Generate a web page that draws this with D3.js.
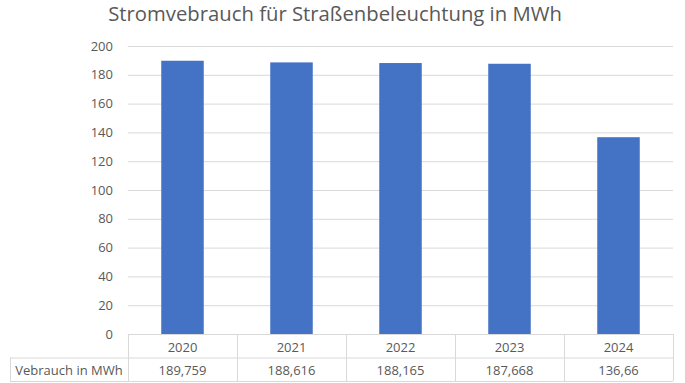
<!DOCTYPE html>
<html><head><meta charset="utf-8">
<script src="https://cdn.jsdelivr.net/npm/d3@7"></script>
<style>body{margin:0;background:#fff}svg{display:block}</style>
</head><body>
<svg id="c" width="685" height="383"></svg>
<script>
const categories = ["2020","2021","2022","2023","2024"];
const values = [189.759, 188.616, 188.165, 187.668, 136.66];
const valueLabels = ["189,759","188,616","188,165","187,668","136,66"];
const yTicks = [0,20,40,60,80,100,120,140,160,180,200];
const seriesName = "Vebrauch in MWh";
const title = "Stromvebrauch für Straßenbeleuchtung in MWh";

const svg = d3.select("#c");
const font = "'Open Sans', 'Noto Sans', sans-serif";
const pLeft = 128, pRight = 673, pTop = 46, pBottom = 334;
const rowH = 23.5, tableLeft = 10;

const x = d3.scaleBand().domain(categories).range([pLeft, pRight]).paddingInner(0.61).paddingOuter(0.305);
const xc = d3.scaleBand().domain(categories).range([pLeft, pRight]);
const y = d3.scaleLinear().domain([0,200]).range([pBottom, pTop]);

// gridlines
svg.append("g").selectAll("line").data(yTicks).join("line")
  .attr("x1", pLeft).attr("x2", pRight)
  .attr("y1", d=>y(d)+0.5).attr("y2", d=>y(d)+0.5)
  .attr("stroke", "#d9d9d9").attr("stroke-width", 1);

// y axis labels
const yAxis = d3.axisLeft(y).tickValues(yTicks).tickSize(0).tickPadding(15);
const ga = svg.append("g").attr("transform", `translate(${pLeft},0)`).call(yAxis);
ga.select(".domain").remove();
ga.selectAll("text").attr("font-family", font).attr("font-size", 13).attr("fill", "#595959");

// bars
svg.append("g").selectAll("rect").data(values).join("rect")
  .attr("x", (d,i)=>x(categories[i]))
  .attr("width", x.bandwidth())
  .attr("y", d=>y(d))
  .attr("height", d=>pBottom - y(d))
  .attr("fill", "#4472c4");

// data table
const t = svg.append("g");
const lc = "#d9d9d9";
t.append("line").attr("x1", pLeft).attr("x2", pRight).attr("y1", pBottom+0.5).attr("y2", pBottom+0.5).attr("stroke", lc);
t.append("line").attr("x1", tableLeft).attr("x2", pRight).attr("y1", pBottom+rowH+0.5).attr("y2", pBottom+rowH+0.5).attr("stroke", lc);
t.append("line").attr("x1", tableLeft).attr("x2", pRight).attr("y1", pBottom+2*rowH+0.5).attr("y2", pBottom+2*rowH+0.5).attr("stroke", lc);
const vx = categories.map(c=>xc(c)).concat([pRight]);
t.selectAll("line.v").data(vx).join("line").attr("class","v")
  .attr("x1", d=>Math.round(d)+0.5).attr("x2", d=>Math.round(d)+0.5)
  .attr("y1", pBottom).attr("y2", pBottom+2*rowH).attr("stroke", lc);
t.append("line").attr("x1", tableLeft+0.5).attr("x2", tableLeft+0.5).attr("y1", pBottom+rowH).attr("y2", pBottom+2*rowH).attr("stroke", lc);

t.selectAll("text.cat").data(categories).join("text").attr("class","cat")
  .attr("x", d=>xc(d)+xc.bandwidth()/2).attr("y", pBottom+rowH/2+1)
  .attr("text-anchor","middle").attr("dominant-baseline","central")
  .attr("font-family", font).attr("font-size", 13).attr("fill", "#595959").text(d=>d);
t.selectAll("text.val").data(valueLabels).join("text").attr("class","val")
  .attr("x", (d,i)=>xc(categories[i])+xc.bandwidth()/2).attr("y", pBottom+rowH*1.5+1)
  .attr("text-anchor","middle").attr("dominant-baseline","central")
  .attr("font-family", font).attr("font-size", 13).attr("fill", "#595959").text(d=>d);
t.append("text").attr("x", (tableLeft+pLeft)/2).attr("y", pBottom+rowH*1.5+1)
  .attr("text-anchor","middle").attr("dominant-baseline","central")
  .attr("font-family", font).attr("font-size", 13).attr("fill", "#595959").text(seriesName);

// title
const tt = svg.append("text").attr("x", 335).attr("y", 21).attr("text-anchor","middle")
  .attr("font-family", font).attr("font-size", 22).attr("fill", "#595959").text(title);
const w = tt.node().getComputedTextLength();
tt.attr("font-size", 22*454/w);
</script>
</body></html>
